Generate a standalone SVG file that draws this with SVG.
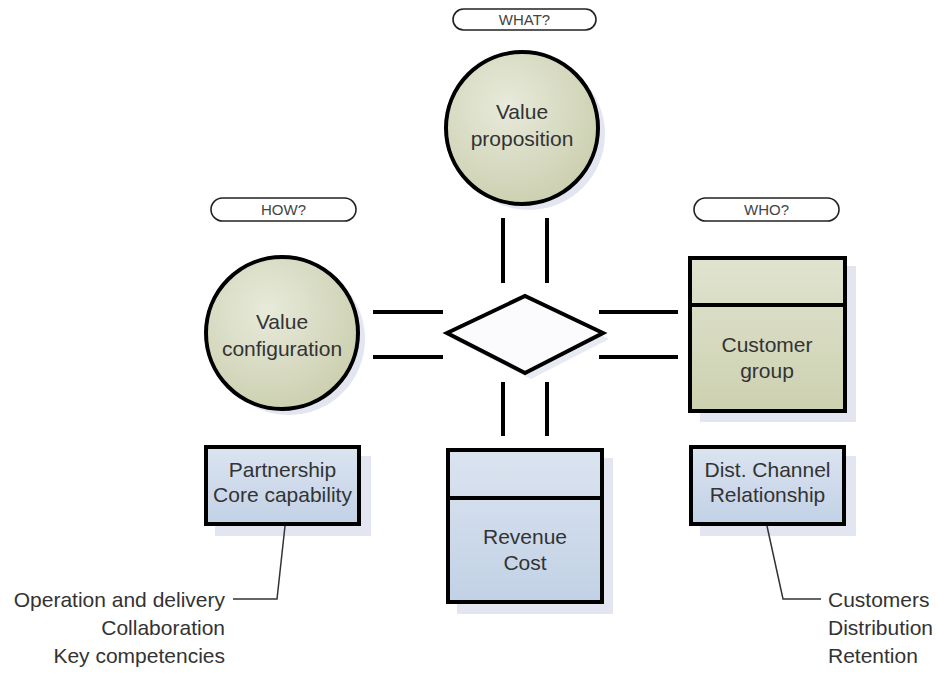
<svg xmlns="http://www.w3.org/2000/svg" width="938" height="674" viewBox="0 0 938 674">
<defs>
<radialGradient id="gOlive" cx="0.4" cy="0.35" r="0.7">
<stop offset="0" stop-color="#e8eadb"/>
<stop offset="1" stop-color="#cbcfae"/>
</radialGradient>
<linearGradient id="gOliveBox" x1="0" y1="0" x2="0" y2="1">
<stop offset="0" stop-color="#e0e3cf"/>
<stop offset="1" stop-color="#cdd1b0"/>
</linearGradient>
<linearGradient id="gBlue" x1="0" y1="0" x2="0" y2="1">
<stop offset="0" stop-color="#dbe4f0"/>
<stop offset="1" stop-color="#c2d1e6"/>
</linearGradient>
<style>
.pill{fill:#ffffff;stroke:#222;stroke-width:1.6}
.ptxt{font-family:"Liberation Sans",Arial,sans-serif;font-size:15px;fill:#444;text-anchor:middle}
.ntxt{font-family:"Liberation Sans",Arial,sans-serif;font-size:21px;fill:#333;text-anchor:middle}
.ltxt{font-family:"Liberation Sans",Arial,sans-serif;font-size:21px;fill:#333}
.node{stroke:#000;stroke-width:4}
.shadow{fill:#e3e6f0}
.conn{stroke:#000;stroke-width:4;fill:none}
.call{stroke:#333;stroke-width:1.5;fill:none}
</style>
</defs>
<rect width="938" height="674" fill="#ffffff"/>

<g id="label-what"><rect class="pill" x="453" y="9" width="143" height="21" rx="10.5"/><text class="ptxt" x="524.5" y="25">WHAT?</text></g>
<g id="label-how"><rect class="pill" x="211" y="198" width="145" height="23" rx="11.5"/><text class="ptxt" x="283.5" y="215">HOW?</text></g>
<g id="label-who"><rect class="pill" x="694" y="198" width="145" height="23" rx="11.5"/><text class="ptxt" x="766.5" y="215">WHO?</text></g>

<g id="value-proposition">
<circle class="shadow" cx="529" cy="134" r="76"/>
<circle class="node" cx="522" cy="128" r="76" fill="url(#gOlive)"/>
<text class="ntxt" x="522" y="119">Value</text>
<text class="ntxt" x="522" y="146">proposition</text>
</g>

<g id="value-configuration">
<circle class="shadow" cx="289" cy="339" r="76"/>
<circle class="node" cx="282" cy="333" r="76" fill="url(#gOlive)"/>
<text class="ntxt" x="282" y="329">Value</text>
<text class="ntxt" x="282" y="356">configuration</text>
</g>

<g id="hub">
<polygon points="447,333 525,296 603,333 525,373" fill="#e6eaf3" transform="translate(6,6)"/>
<polygon class="node" points="447,333 525,296 603,333 525,373" fill="#fbfbfd"/>
</g>

<g id="customer-group">
<rect class="shadow" x="700" y="266" width="156" height="156"/>
<rect class="node" x="690" y="258" width="155" height="153" fill="url(#gOliveBox)"/>
<line class="node" x1="690" y1="305" x2="845" y2="305"/>
<text class="ntxt" x="767" y="352">Customer</text>
<text class="ntxt" x="767" y="378">group</text>
</g>

<g id="revenue-cost">
<rect class="shadow" x="457" y="458" width="156" height="156"/>
<rect class="node" x="448" y="450" width="154" height="152" fill="url(#gBlue)"/>
<line class="node" x1="448" y1="498" x2="602" y2="498"/>
<text class="ntxt" x="525" y="544">Revenue</text>
<text class="ntxt" x="525" y="570">Cost</text>
</g>

<g id="partnership">
<rect class="shadow" x="215" y="456" width="156" height="80"/>
<rect class="node" x="206" y="447" width="153" height="77" fill="url(#gBlue)"/>
<text class="ntxt" x="282.5" y="477">Partnership</text>
<text class="ntxt" x="282.5" y="502">Core capability</text>
</g>

<g id="dist-channel">
<rect class="shadow" x="700" y="456" width="156" height="80"/>
<rect class="node" x="691" y="447" width="153" height="77" fill="url(#gBlue)"/>
<text class="ntxt" x="767.5" y="477">Dist. Channel</text>
<text class="ntxt" x="767.5" y="502">Relationship</text>
</g>

<g id="connectors">
<line class="conn" x1="373" y1="312" x2="443" y2="312"/>
<line class="conn" x1="373" y1="357" x2="443" y2="357"/>
<line class="conn" x1="599" y1="312" x2="678" y2="312"/>
<line class="conn" x1="599" y1="357" x2="678" y2="357"/>
<line class="conn" x1="503" y1="218" x2="503" y2="283"/>
<line class="conn" x1="547" y1="218" x2="547" y2="283"/>
<line class="conn" x1="503" y1="382" x2="503" y2="436"/>
<line class="conn" x1="547" y1="382" x2="547" y2="436"/>
<polyline class="call" points="285,526 277,599 233,599"/>
<polyline class="call" points="767,526 783,599 821,599"/>
</g>

<g id="notes-left">
<text class="ltxt" x="225" y="607" text-anchor="end">Operation and delivery</text>
<text class="ltxt" x="225" y="635" text-anchor="end">Collaboration</text>
<text class="ltxt" x="225" y="663" text-anchor="end">Key competencies</text>
</g>
<g id="notes-right">
<text class="ltxt" x="828" y="607">Customers</text>
<text class="ltxt" x="828" y="635">Distribution</text>
<text class="ltxt" x="828" y="663">Retention</text>
</g>
</svg>
